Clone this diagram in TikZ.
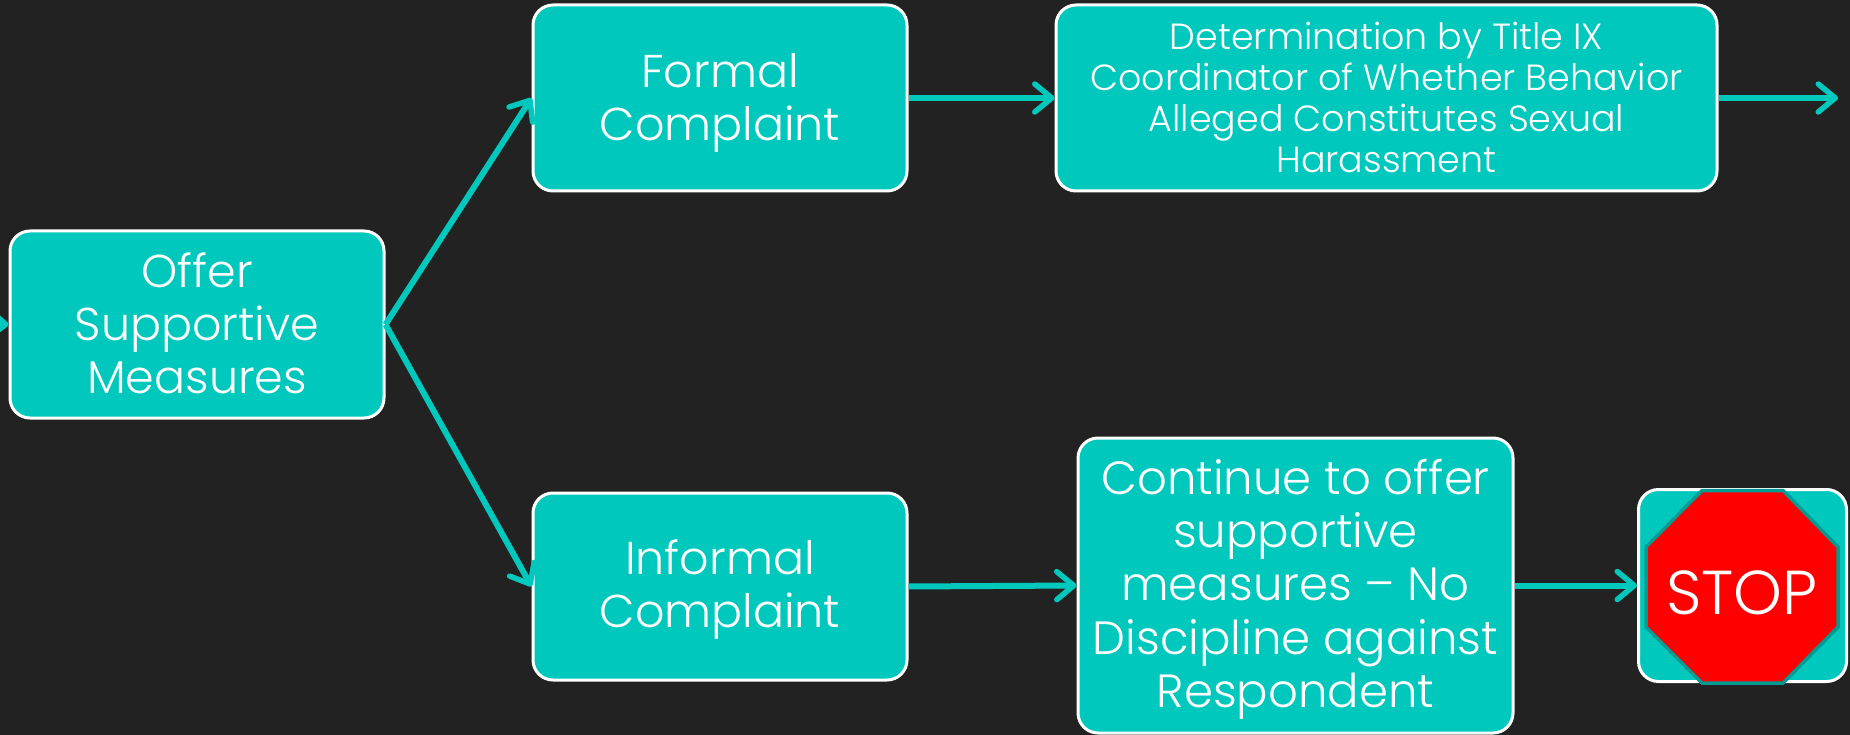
\documentclass[tikz,border=0pt]{standalone}
\usepackage{fontspec}
\setmainfont{Poppins Light}
\usetikzlibrary{arrows.meta}
\definecolor{bgc}{HTML}{222222}
\definecolor{teal1}{HTML}{00C8BC}
\definecolor{teal2}{HTML}{009B92}
\newcommand{\padtop}[1]{\rule{0pt}{#1}}
\newcommand{\padbot}[1]{\rule[-#1]{0pt}{0pt}}
\tikzset{
  box/.style={draw=white,line width=3pt,fill=teal1,rounded corners=20pt,inner sep=0pt,text=white,align=center,minimum width=#1,font=\fontsize{46pt}{53pt}\selectfont},
  conn/.style={draw=teal1,line width=6pt,-{Straight Barb[length=17pt,width=28pt,line width=5.5pt,round]}},
}
\begin{document}
\begin{tikzpicture}[x=1pt,y=-1pt]
\useasboundingbox[fill=bgc] (0,0) rectangle (1850,735);
\node[box=374pt,minimum height=187pt] (offer) at (197,324.5) {Offer\\Supportive\\Measures\padbot{2.4pt}};
\node[box=374pt,minimum height=186pt] (formal) at (720,98) {\padtop{43.4pt}Formal\\Complaint};
\node[box=661pt,minimum height=186pt,font=\fontsize{36.4pt}{41pt}\selectfont] (det) at (1386.5,98) {Determination by Title IX\\Coordinator of Whether Behavior\\Alleged Constitutes Sexual\\Harassment\padbot{2pt}};
\node[box=374pt,minimum height=187pt] (informal) at (720,586.5) {\padtop{41pt}Informal\\Complaint};
\node[box=435pt,minimum height=295pt,font=\fontsize{46.6pt}{53.4pt}\selectfont] (cont) at (1295.5,585.5) {\padtop{42.7pt}Continue to offer\\supportive\\measures – No\\Discipline against\\Respondent};
\node[box=208pt,minimum height=192pt] (stopbox) at (1742.5,585.5) {};
\filldraw[fill=red,draw=teal2,line width=3.5pt] (1702,490.5) -- (1783,490.5) -- (1838,547) -- (1838,627) -- (1783,683) -- (1702,683) -- (1646,627) -- (1646,547) -- cycle;
\node[text=white,inner sep=0pt,font=\fontsize{62pt}{70pt}\selectfont] (stoptxt) at (1742,593) {STOP};
\coordinate (inl) at (-25,323);
\coordinate (outr) at (1838,98);
\draw[conn] (inl) -- (offer.west);
\draw[conn] (offer.east) -- (formal.west);
\draw[conn] (offer.east) -- (informal.west);
\draw[conn] (formal.east) -- (det.west);
\draw[conn] (det.east) -- (outr);
\draw[conn] (informal.east) -- (cont.west);
\draw[conn] (cont.east) -- (stopbox.west);
\end{tikzpicture}
\end{document}
